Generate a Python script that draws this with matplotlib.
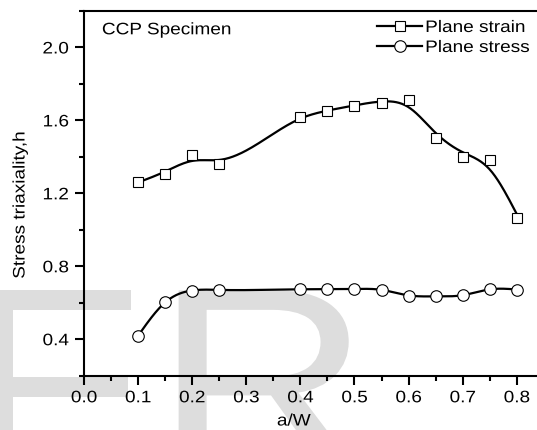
import numpy as np
import matplotlib
matplotlib.use("Agg")
import matplotlib.pyplot as plt
from matplotlib.ticker import MultipleLocator, FormatStrFormatter
from matplotlib.patheffects import AbstractPathEffect
from matplotlib.transforms import Affine2D

plt.rcParams['font.family'] = ['Liberation Sans', 'DejaVu Sans']

# ---- data ----
aw_strain = [0.10, 0.15, 0.20, 0.25, 0.40, 0.45, 0.50, 0.55, 0.60, 0.65, 0.70, 0.75, 0.80]
h_strain = [1.262, 1.305, 1.409, 1.360, 1.619, 1.650, 1.678, 1.693, 1.711, 1.504, 1.400, 1.382, 1.063]
aw_stress = [0.10, 0.15, 0.20, 0.25, 0.40, 0.45, 0.50, 0.55, 0.60, 0.65, 0.70, 0.75, 0.80]
h_stress = [0.418, 0.604, 0.667, 0.670, 0.674, 0.674, 0.675, 0.672, 0.639, 0.636, 0.640, 0.675, 0.672]
labels = ["Plane strain", "Plane stress"]
x_ticks = [0.0, 0.1, 0.2, 0.3, 0.4, 0.5, 0.6, 0.7, 0.8]
y_ticks = [0.4, 0.8, 1.2, 1.6, 2.0]


class HStretch(AbstractPathEffect):
    """Widen text glyphs along the text direction, keeping an anchor fixed."""

    def __init__(self, sx=1.14, anchor="left"):
        super().__init__()
        self.sx = sx
        self.anchor = anchor

    def draw_path(self, renderer, gc, tpath, affine, rgbFace=None):
        ext = tpath.get_extents()
        if self.anchor == "left":
            a0 = ext.x0
        elif self.anchor == "center":
            a0 = 0.5 * (ext.x0 + ext.x1)
        elif self.anchor == "origin":
            a0 = 0.0
        else:
            a0 = ext.x1
        t = Affine2D().translate(-a0, 0).scale(self.sx, 1.0).translate(a0, 0)
        renderer.draw_path(gc, tpath, t + affine, rgbFace)


def smoothing_spline(x, y, lam, npts=400):
    """Reinsch cubic smoothing spline (natural), evaluated on a fine grid."""
    x = np.asarray(x, float)
    y = np.asarray(y, float)
    n = len(x)
    h = np.diff(x)
    Q = np.zeros((n, n - 2))
    R = np.zeros((n - 2, n - 2))
    for j in range(1, n - 1):
        c = j - 1
        Q[j - 1, c] = 1.0 / h[j - 1]
        Q[j, c] = -1.0 / h[j - 1] - 1.0 / h[j]
        Q[j + 1, c] = 1.0 / h[j]
        R[c, c] = (h[j - 1] + h[j]) / 3.0
        if c + 1 < n - 2:
            R[c, c + 1] = h[j] / 6.0
            R[c + 1, c] = h[j] / 6.0
    gam = np.linalg.solve(R + lam * Q.T @ Q, Q.T @ y)
    f = y - lam * Q @ gam
    g = np.concatenate([[0.0], gam, [0.0]])
    xs = np.linspace(x[0], x[-1], npts)
    idx = np.clip(np.searchsorted(x, xs) - 1, 0, n - 2)
    xi, xi1, hi = x[idx], x[idx + 1], h[idx]
    a = xs - xi
    b = xi1 - xs
    ys = (a * f[idx + 1] + b * f[idx]) / hi - a * b / 6.0 * (
        (1 + a / hi) * g[idx + 1] + (1 + b / hi) * g[idx])
    return xs, ys


W, H = 537, 430
SX = 1.14
fig = plt.figure(figsize=(W / 100, H / 100), dpi=100)

# watermark (behind everything)
for ch, xo in (("F", -40), ("R", 154)):
    t = fig.text(xo / W, -40 / H, ch, fontsize=188, color="#dddddd", ha="left", va="baseline", zorder=-5)
    t.set_path_effects([HStretch(1.15, "origin")])

x0, x1 = 0.0, 0.85
ax_l, ax_b, ax_t = 84, 375.7, 11
px_per = 541.0
ax = fig.add_axes([ax_l / W, (H - ax_b) / H, (x1 - x0) * px_per / W, (ax_b - ax_t) / H])
ax.patch.set_alpha(0)

for s in ["left", "bottom", "top"]:
    ax.spines[s].set_linewidth(1.5)
ax.spines["right"].set_visible(False)

xs, ys = smoothing_spline(aw_strain, h_strain, 1.2e-5)
ax.plot(xs, ys, color="black", lw=1.6, zorder=2)
xs2, ys2 = smoothing_spline(aw_stress, h_stress, 1e-6)
ax.plot(xs2, ys2, color="black", lw=1.6, zorder=2)
ax.plot(aw_strain, h_strain, ls="none", marker="s", ms=7.5, mfc="white", mec="black", mew=0.8, zorder=3)
ax.plot(aw_stress, h_stress, ls="none", marker="o", ms=8.3, mfc="white", mec="black", mew=0.8, zorder=3)

# legend handles
h1, = ax.plot([], [], color="black", lw=1.6, marker="s", ms=7.5, mfc="white", mec="black", mew=0.8)
h2, = ax.plot([], [], color="black", lw=1.6, marker="o", ms=8.3, mfc="white", mec="black", mew=0.8)
leg = ax.legend([h1, h2], labels, loc="upper left", bbox_to_anchor=(377 / W, 1 - 20 / H),
                bbox_transform=fig.transFigure, frameon=False, fontsize=12, handlelength=2.7,
                handletextpad=0.2, labelspacing=0.3, borderpad=0, borderaxespad=0)
for t in leg.get_texts():
    t.set_path_effects([HStretch(SX, "left")])

ax.set_xlim(x0, x1)
ax.set_ylim(0.2, 2.2)
ax.set_xticks(x_ticks)
ax.set_yticks(y_ticks)
ax.xaxis.set_minor_locator(MultipleLocator(0.05))
ax.yaxis.set_minor_locator(MultipleLocator(0.2))
ax.xaxis.set_major_formatter(FormatStrFormatter("%.1f"))
ax.yaxis.set_major_formatter(FormatStrFormatter("%.1f"))
ax.tick_params(which="major", direction="out", length=6.5, width=1.5, labelsize=12, top=False, right=False)
ax.tick_params(which="minor", direction="out", length=3.5, width=1.5, top=False, right=False)
ax.tick_params(axis="x", which="major", pad=4)
ax.tick_params(axis="y", which="major", pad=4.5)
for t in ax.get_xticklabels():
    t.set_path_effects([HStretch(SX, "center")])
for t in ax.get_yticklabels():
    t.set_path_effects([HStretch(SX, "right")])

ax.set_xlabel("a/W", fontsize=12)
ax.xaxis.set_label_coords(277 / W, 1 - 421 / H, transform=fig.transFigure)
ax.xaxis.label.set_va("center")
ax.xaxis.label.set_ha("left")
ax.xaxis.label.set_path_effects([HStretch(SX, "left")])
ax.set_ylabel("Stress triaxiality,h", fontsize=12)
ax.yaxis.set_label_coords(20 / W, 1 - 205 / H, transform=fig.transFigure)
ax.yaxis.label.set_va("center")
ax.yaxis.label.set_path_effects([HStretch(SX, "center")])

tt = fig.text(102 / W, 1 - 34.3 / H, "CCP Specimen", fontsize=12, ha="left", va="baseline")
tt.set_path_effects([HStretch(SX, "left")])

fig.savefig("out.png", dpi=100)
